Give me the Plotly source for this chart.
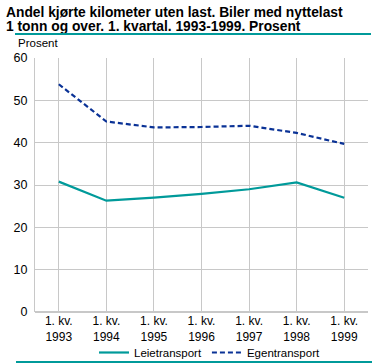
import plotly.graph_objects as go

categories = ["1. kv.<br>1993", "1. kv.<br>1994", "1. kv.<br>1995", "1. kv.<br>1996",
              "1. kv.<br>1997", "1. kv.<br>1998", "1. kv.<br>1999"]
leietransport = [30.8, 26.3, 27.0, 27.9, 29.0, 30.6, 27.0]
egentransport = [53.8, 45.0, 43.6, 43.7, 44.0, 42.3, 39.7]
y_ticks = [0, 10, 20, 30, 40, 50, 60]
title_lines = ["Andel kjørte kilometer uten last. Biler med nyttelast",
               "1 tonn og over. 1. kvartal. 1993-1999. Prosent"]

TEAL = "#009a9a"
BLUE = "#0a3296"
FONT = "Liberation Sans"
TFONT = "Liberation Sans"

W, H = 382, 363
PL, PR, PT, PB = 35, 368, 58, 312   # plot area edges in pixels


def fx(px):
    return px / W


def fy(py):
    return 1 - py / H


fig = go.Figure()
fig.add_trace(go.Scatter(x=categories, y=leietransport, name="Leietransport",
                         mode="lines", line=dict(color=TEAL, width=2.2)))
fig.add_trace(go.Scatter(x=categories, y=egentransport, name="Egentransport",
                         mode="lines", line=dict(color=BLUE, width=2.2, dash="5px,3px")))

fig.update_layout(
    width=W, height=H,
    margin=dict(l=0, r=0, t=0, b=0, pad=0, autoexpand=False),
    paper_bgcolor="white", plot_bgcolor="white",
    font=dict(family=FONT, size=11, color="black"),
    showlegend=True,
    legend=dict(orientation="h", x=fx(94), xanchor="left",
                y=fy(338), yanchor="top",
                font=dict(family=FONT, size=11.5), tracegroupgap=0,
                bgcolor="rgba(0,0,0,0)"),
    xaxis=dict(type="category", range=[-0.5, 6.5], domain=[fx(PL), fx(PR)],
               showgrid=True, gridcolor="#c8c8c8",
               gridwidth=1, showline=False, zeroline=False, ticks="", automargin=False,
               tickfont=dict(family=FONT, size=12)),
    yaxis=dict(range=[0, 60], tickvals=y_ticks, domain=[fy(PB), fy(PT)],
               showgrid=True, gridcolor="#c8c8c8",
               gridwidth=1, showline=True, linecolor="#c8c8c8", linewidth=1,
               zeroline=True, zerolinecolor="#c8c8c8", ticks="", automargin=False,
               tickfont=dict(family=FONT, size=12.5), ticklabelstandoff=4),
)

for line, cy in zip(title_lines, [12.5, 26]):
    fig.add_annotation(text="<b>" + line + "</b>",
                       xref="paper", yref="paper", x=fx(4), y=fy(cy), xanchor="left",
                       yanchor="middle", showarrow=False, align="left",
                       font=dict(family=TFONT, size=13.8, color="black"))
fig.add_annotation(text="Prosent", xref="paper", yref="paper", x=fx(16), y=fy(43),
                   xanchor="left", yanchor="middle", showarrow=False,
                   font=dict(family=FONT, size=11.5, color="black"))

# teal rules above and below the chart, added as page elements
post = """
document.body.style.margin='0';
document.body.style.overflow='hidden';
function rule(left, top, width){
  var d=document.createElement('div');
  d.style.position='absolute';
  d.style.left=left+'px'; d.style.top=top+'px';
  d.style.width=width+'px'; d.style.height='2px';
  d.style.background='%s';
  d.style.zIndex='1000';
  d.style.pointerEvents='none';
  document.body.appendChild(d);
}
rule(15, 33, 356);
rule(16, 361, 356);
""" % TEAL

fig.write_html("out.html", config={"displayModeBar": False}, post_script=post)
